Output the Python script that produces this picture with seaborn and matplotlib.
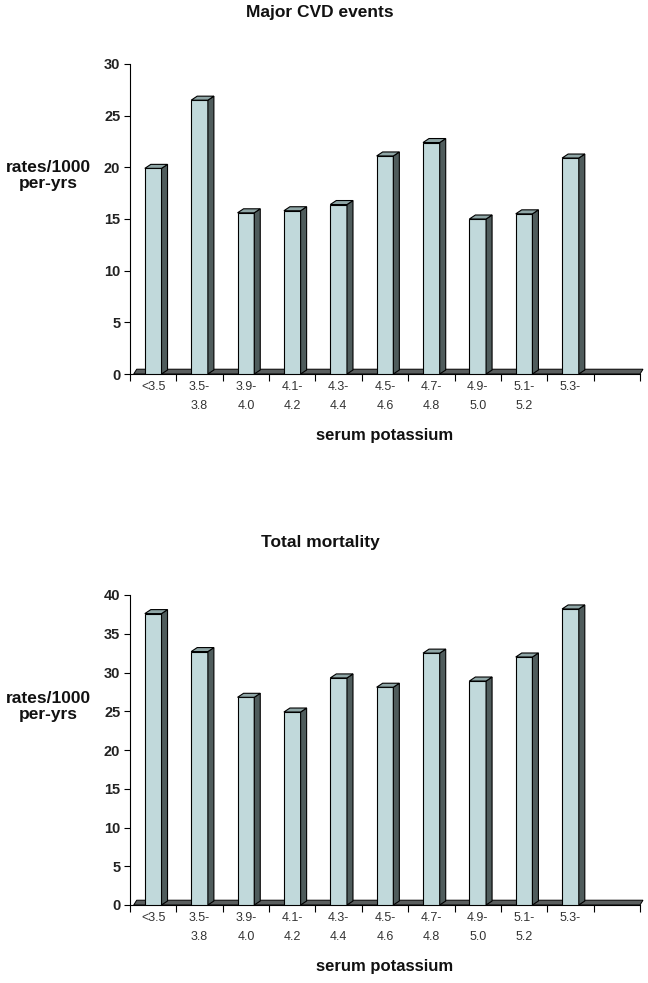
import numpy as np
import pandas as pd
import seaborn as sns
import matplotlib
matplotlib.use("Agg")
import matplotlib.pyplot as plt
from matplotlib.patches import Polygon

# categories of serum potassium (last slot of the chart is empty)
categories = ["<3.5", "3.5-\n3.8", "3.9-\n4.0", "4.1-\n4.2", "4.3-\n4.4",
              "4.5-\n4.6", "4.7-\n4.8", "4.9-\n5.0", "5.1-\n5.2", "5.3-"]
cvd_rates = [19.9, 26.5, 15.6, 15.8, 16.4, 21.1, 22.4, 15.0, 15.5, 20.9]
mortality_rates = [37.6, 32.7, 26.8, 24.9, 29.3, 28.1, 32.5, 28.9, 32.0, 38.2]
cvd_yticks = [0, 5, 10, 15, 20, 25, 30]
mort_yticks = [0, 5, 10, 15, 20, 25, 30, 35, 40]

FRONT = "#c1d9db"
SIDE = "#4f5c5c"
TOP = "#8fa6a6"
FLOOR = "#5a5e5e"

sns.set_style("white")
plt.rcParams["font.family"] = ["Liberation Sans", "DejaVu Sans"]

fig = plt.figure(figsize=(6.48, 9.83), dpi=100)


def draw_panel(ax, values, yticks, title, fig_title_y):
    n_slots = len(categories) + 1
    df = pd.DataFrame({"k": categories, "rate": values})
    sns.barplot(data=df, x="k", y="rate", order=categories, color=FRONT,
                saturation=1, edgecolor="black", linewidth=0.8, width=0.36, ax=ax)
    ymax = yticks[-1]
    ax.set_xlim(-0.5, n_slots - 0.5)
    ax.set_ylim(0, ymax)

    # fake 3d depth (in data units)
    ax_h_px = ax.get_position().height * fig.get_figheight() * fig.dpi
    ax_w_px = ax.get_position().width * fig.get_figwidth() * fig.dpi
    dx = 6 * n_slots / ax_w_px
    dy = 4 * ymax / ax_h_px

    # floor slab
    floor = Polygon([(-0.5 + 0.08, 0), (n_slots - 0.5, 0),
                     (n_slots - 0.5 + dx * 0.5, dy * 1.2), (-0.5 + 0.08 + dx * 0.5, dy * 1.2)],
                    closed=True, facecolor=FLOOR, edgecolor="black", lw=0.7,
                    zorder=1.5, clip_on=False)
    ax.add_patch(floor)

    for p in list(ax.patches):
        if p is floor:
            continue
        x0 = p.get_x()
        w = p.get_width()
        h = p.get_height()
        p.set_zorder(3)
        side = Polygon([(x0 + w, 0), (x0 + w, h), (x0 + w + dx, h + dy), (x0 + w + dx, dy)],
                       closed=True, facecolor=SIDE, edgecolor="black", lw=0.8, zorder=3)
        top = Polygon([(x0, h), (x0 + w, h), (x0 + w + dx, h + dy), (x0 + dx, h + dy)],
                      closed=True, facecolor=TOP, edgecolor="black", lw=0.8, zorder=3)
        ax.add_patch(side)
        ax.add_patch(top)

    # y axis
    ax.set_yticks(yticks)
    ax.set_yticklabels([str(t) for t in yticks], fontsize=10.5, fontweight="bold", color="#222222")
    ax.tick_params(axis="y", direction="out", length=4, width=0.8, color="black", pad=3, left=True)

    # x axis: ticks on slot boundaries, labels centered in slots
    ax.set_xticks(np.arange(n_slots + 1) - 0.5)
    ax.set_xticklabels([])
    ax.set_xticks(np.arange(len(categories)), minor=True)
    ax.set_xticklabels(categories, minor=True, fontsize=9, color="#333333", linespacing=1.75)
    ax.tick_params(axis="x", which="major", direction="out", length=5, width=0.8,
                   color="black", bottom=True)
    ax.tick_params(axis="x", which="minor", length=0, pad=5, bottom=True)
    for lab in ax.get_xticklabels(minor=True):
        lab.set_verticalalignment("top")

    sns.despine(ax=ax, top=True, right=True)
    ax.spines["left"].set_linewidth(0.8)
    ax.spines["left"].set_color("black")
    ax.spines["bottom"].set_linewidth(0.8)
    ax.spines["bottom"].set_color("black")

    ax.set_xlabel("serum potassium", fontsize=12, fontweight="bold", labelpad=12, color="#111111")
    ax.set_ylabel("rates/1000\nper-yrs", fontsize=12.5, fontweight="bold", rotation=0,
                  ha="center", va="center", color="#111111", linespacing=1.15)
    ax.yaxis.set_label_coords(-0.16, 0.64)
    fig.text(320 / 648, fig_title_y, title, ha="center", va="center",
             fontsize=12.5, fontweight="bold", color="#111111")


ax1 = fig.add_axes([130 / 648, (983 - 374) / 983, 510 / 648, 310 / 983])
ax2 = fig.add_axes([130 / 648, (983 - 905) / 983, 510 / 648, 310 / 983])

draw_panel(ax1, cvd_rates, cvd_yticks, "Major CVD events", 1 - 12 / 983)
draw_panel(ax2, mortality_rates, mort_yticks, "Total mortality", 1 - 543 / 983)

fig.savefig("out.png", dpi=100, facecolor="white")
